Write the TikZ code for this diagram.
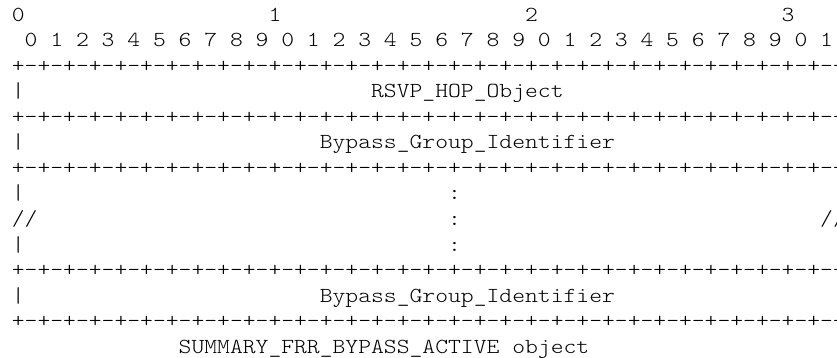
\documentclass[tikz,border=0pt]{standalone}
\usepackage{graphicx}
\newcommand\qd{-+-+-+-+}
\newcommand\bdr{+\qd\qd\qd\qd\qd\qd\qd\qd}
\tikzset{
  txt/.style={inner sep=0pt, outer sep=0pt, anchor=base west,
    font=\ttfamily\fontseries{l}\fontsize{21.4}{25.5}\selectfont, text=black}
}
% name, column, line, text
\newcommand\asc[4]{\node[txt] (#1) at ({11.9+12.83*#2},{-(21.5+25.5*#3)}) {\scalebox{1.142}[1]{#4}};}
\begin{document}
\begin{tikzpicture}[x=1pt,y=1pt]
\useasboundingbox[fill=white] (0,0) rectangle (837,-358);
% bit-position header
\asc{h0}{0}{0}{0}
\asc{h1}{20}{0}{1}
\asc{h2}{40}{0}{2}
\asc{h3}{60}{0}{3}
\asc{bits}{1}{1}{0 1 2 3 4 5 6 7 8 9 0 1 2 3 4 5 6 7 8 9 0 1 2 3 4 5 6 7 8 9 0 1}
% rows
\asc{b1}{0}{2}{\bdr}
\asc{r3l}{0}{3}{|}
\asc{rsvp}{28}{3}{RSVP\_HOP\_Object}
\asc{r3r}{64}{3}{|}
\asc{b2}{0}{4}{\bdr}
\asc{r5l}{0}{5}{|}
\asc{bgi1}{24}{5}{Bypass\_Group\_Identifier}
\asc{r5r}{64}{5}{|}
\asc{b3}{0}{6}{\bdr}
\asc{r7l}{0}{7}{|}
\asc{r7c}{34}{7}{:}
\asc{r7r}{64}{7}{|}
\asc{r8l}{0}{8}{//}
\asc{r8c}{34}{8}{:}
\asc{r8r}{63}{8}{//}
\asc{r9l}{0}{9}{|}
\asc{r9c}{34}{9}{:}
\asc{r9r}{64}{9}{|}
\asc{b4}{0}{10}{\bdr}
\asc{r11l}{0}{11}{|}
\asc{bgi2}{24}{11}{Bypass\_Group\_Identifier}
\asc{r11r}{64}{11}{|}
\asc{b5}{0}{12}{\bdr}
\asc{cap}{13}{13}{SUMMARY\_FRR\_BYPASS\_ACTIVE object}
\end{tikzpicture}
\end{document}
